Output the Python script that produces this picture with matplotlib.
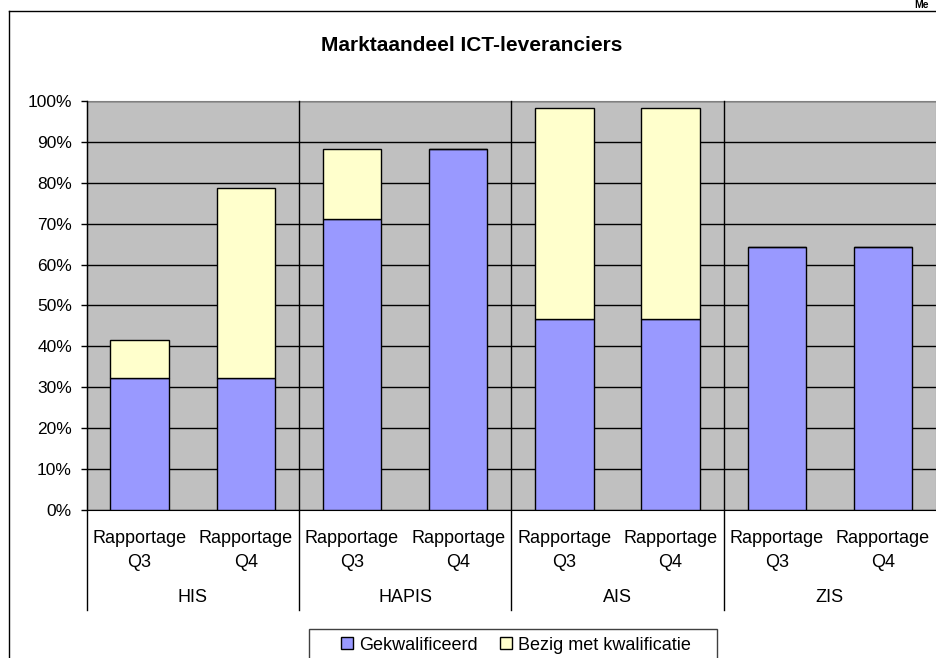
import matplotlib.pyplot as plt
from matplotlib.lines import Line2D
from matplotlib.patches import Patch, Rectangle
import matplotlib.transforms as mtransforms

plt.rcParams['font.family'] = ['Liberation Sans', 'DejaVu Sans']

groups = ['HIS', 'HAPIS', 'AIS', 'ZIS']
periods = ['Rapportage\nQ3', 'Rapportage\nQ4']
gekwalificeerd = [32.1, 32.1, 71.2, 88.3, 46.7, 46.7, 64.2, 64.2]
bezig = [9.5, 46.6, 17.1, 0.0, 51.7, 51.7, 0.0, 0.0]
yticks = [0, 10, 20, 30, 40, 50, 60, 70, 80, 90, 100]

W, H = 936, 658
fig = plt.figure(figsize=(W / 100, H / 100), dpi=100)
ax = fig.add_axes([86.5 / W, 1 - 509.5 / H, (W - 86.5) / W, (509.5 - 101.3) / H])
ax.set_facecolor('#c0c0c0')

x = list(range(len(gekwalificeerd)))
ax.bar(x, gekwalificeerd, width=0.55, color='#9999ff', edgecolor='black', linewidth=1, zorder=3)
ax.bar(x, bezig, width=0.55, bottom=gekwalificeerd, color='#ffffcc', edgecolor='black', linewidth=1, zorder=3)

ax.set_xlim(-0.5, 7.5)
ax.set_ylim(0, 100)
ax.set_yticks(yticks)
ax.set_yticklabels([f'{t}%' for t in yticks], fontsize=12.5)
ax.tick_params(axis='y', length=4.5, width=1, pad=6)
ax.tick_params(axis='x', length=0, labelbottom=False)
ax.grid(axis='y', color='black', linewidth=1, zorder=1)
ax.set_axisbelow(True)
for s in ['top', 'right']:
    ax.spines[s].set_color('#808080')
ax.spines['left'].set_color('black')
ax.spines['bottom'].set_color('black')

# group separators
trans = mtransforms.blended_transform_factory(ax.transData, ax.transAxes)
label_depth = -(610 - 509.5) / (509.5 - 101.3)
for sx in [-0.5, 1.5, 3.5, 5.5]:
    ax.plot([sx, sx], [label_depth, 1.0], color='black', linewidth=1, transform=trans, clip_on=False, zorder=4)

for i in x:
    ax.text(i, -(550.5 - 509.5) / 408.2, periods[i % 2], transform=trans, ha='center', va='center',
            fontsize=13, linespacing=1.5)
for g, name in enumerate(groups):
    ax.text(2 * g + 0.5, -(598 - 509.5) / 408.2, name, transform=trans, ha='center', va='center',
            fontsize=13)

fig.text(472 / W, 1 - 45.5 / H, 'Marktaandeel ICT-leveranciers', ha='center', va='center',
         fontsize=15, fontweight='bold')
fig.text(0.985, 1 - 0.5 / H, 'Me', ha='center', va='top', fontsize=7.5, fontweight='bold')

# chart area border
fig.add_artist(Line2D([9 / W, 9 / W], [0, 1 - 11 / H], color='black', linewidth=1))
fig.add_artist(Line2D([9 / W, 1], [1 - 11 / H, 1 - 11 / H], color='black', linewidth=1))

# legend frame (runs off the bottom edge)
fig.add_artist(Rectangle((309 / W, -0.05), (717 - 309) / W, 0.05 + 1 - 629 / H, transform=fig.transFigure,
                         fill=False, edgecolor='#404040', linewidth=1))
handles = [Patch(facecolor='#9999ff', edgecolor='black', label='Gekwalificeerd'),
           Patch(facecolor='#ffffcc', edgecolor='black', label='Bezig met kwalificatie')]
fig.legend(handles=handles, loc='center', bbox_to_anchor=(516 / W, 1 - 645 / H), ncol=2,
           fontsize=13, frameon=False, handlelength=0.67, handleheight=0.67, handletextpad=0.33,
           columnspacing=1.2, borderpad=0, borderaxespad=0)

fig.savefig('out.png', dpi=100)
